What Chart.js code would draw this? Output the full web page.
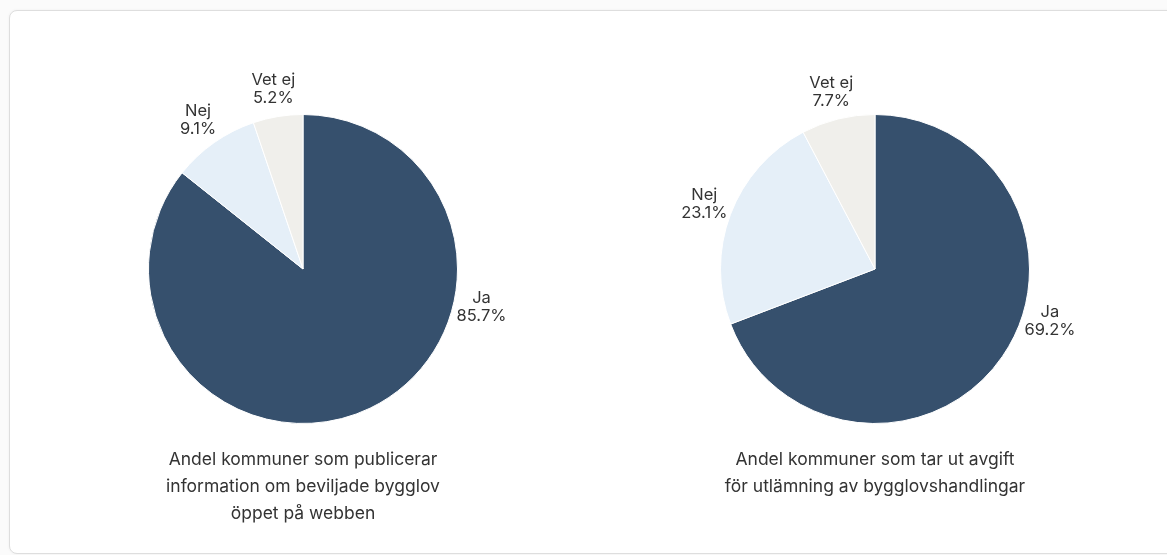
<!DOCTYPE html>
<html lang="sv">
<head>
<meta charset="utf-8">
<title>Bygglov</title>
<script src="https://cdn.jsdelivr.net/npm/chart.js@4/dist/chart.umd.min.js"></script>
<style>
  html, body { margin: 0; padding: 0; background: #fbfbfb; }
  body { width: 1167px; height: 555px; position: relative; overflow: hidden; font-family: Inter, "Noto Sans", sans-serif; }
  .card {
    position: absolute; left: 9px; top: 10px; width: 1400px; height: 542px;
    background: #fff; border: 1px solid #dedede; border-radius: 8px;
    box-shadow: 0 0 3px rgba(0,0,0,0.05);
  }
  .pie { position: absolute; top: 69px; width: 460px; height: 400px; }
  .caption {
    position: absolute; top: 445px; width: 460px; text-align: center;
    font-size: 17.5px; line-height: 27px; color: #333;
  }
</style>
</head>
<body>
<div class="card"></div>

<div class="pie" style="left:73px"><canvas id="publiceringChart" width="460" height="400"></canvas></div>
<div class="caption" style="left:73px">Andel kommuner som publicerar<br>information om beviljade bygglov<br>öppet på webben</div>

<div class="pie" style="left:645px"><canvas id="avgiftChart" width="460" height="400"></canvas></div>
<div class="caption" style="left:645px">Andel kommuner som tar ut avgift<br>för utlämning av bygglovshandlingar</div>

<script>
// Svarsalternativ och andelar (procent)
const answers = ["Ja", "Nej", "Vet ej"];
const publiceringValues = [85.7, 9.1, 5.2];
const avgiftValues = [69.2, 23.1, 7.7];

const sliceColors = ["#36506d", "#e5eff8", "#f0efeb"];

// Labels outside each slice: name + percent, centred on the slice's mid angle
const outsideLabels = {
  id: "outsideLabels",
  afterDatasetsDraw(chart, args, opts) {
    const ctx = chart.ctx;
    const meta = chart.getDatasetMeta(0);
    const values = chart.data.datasets[0].data;
    const lh = opts.lineHeight;
    ctx.save();
    ctx.font = opts.font;
    ctx.fillStyle = opts.color;
    ctx.textAlign = "center";
    ctx.textBaseline = "middle";
    meta.data.forEach((arc, i) => {
      const { x, y, startAngle, endAngle, outerRadius } =
        arc.getProps(["x", "y", "startAngle", "endAngle", "outerRadius"], true);
      const mid = (startAngle + endAngle) / 2;
      const r = outerRadius + opts.distance;
      let dx = Math.cos(mid) * r;
      let dy = Math.sin(mid) * r;
      // keep labels of the big lower slices beside the pie
      if (dy > opts.maxDy) {
        dy = opts.maxDy;
        dx = (dx >= 0 ? 1 : -1) * Math.sqrt(r * r - dy * dy);
      }
      ctx.fillText(chart.data.labels[i], x + dx, y + dy - lh / 2);
      ctx.fillText(values[i].toFixed(1) + "%", x + dx, y + dy + lh / 2);
    });
    ctx.restore();
  }
};

function makePie(id, values, maxDy) {
  const ctx = document.getElementById(id).getContext("2d");
  return new Chart(ctx, {
    type: "pie",
    data: {
      labels: answers,
      datasets: [{
        data: values,
        backgroundColor: sliceColors,
        borderColor: "#ffffff",
        borderWidth: 1,
      }],
    },
    options: {
      responsive: false,
      animation: false,
      layout: { padding: 45 },
      plugins: {
        legend: { display: false },
        tooltip: { enabled: false },
        outsideLabels: {
          font: '16.5px Inter, "Noto Sans", sans-serif',
          color: "#333333",
          lineHeight: 18,
          distance: 28,
          maxDy: maxDy,
        },
      },
    },
    plugins: [outsideLabels],
  });
}

makePie("publiceringChart", publiceringValues, 38);
makePie("avgiftChart", avgiftValues, 52);
</script>
</body>
</html>
